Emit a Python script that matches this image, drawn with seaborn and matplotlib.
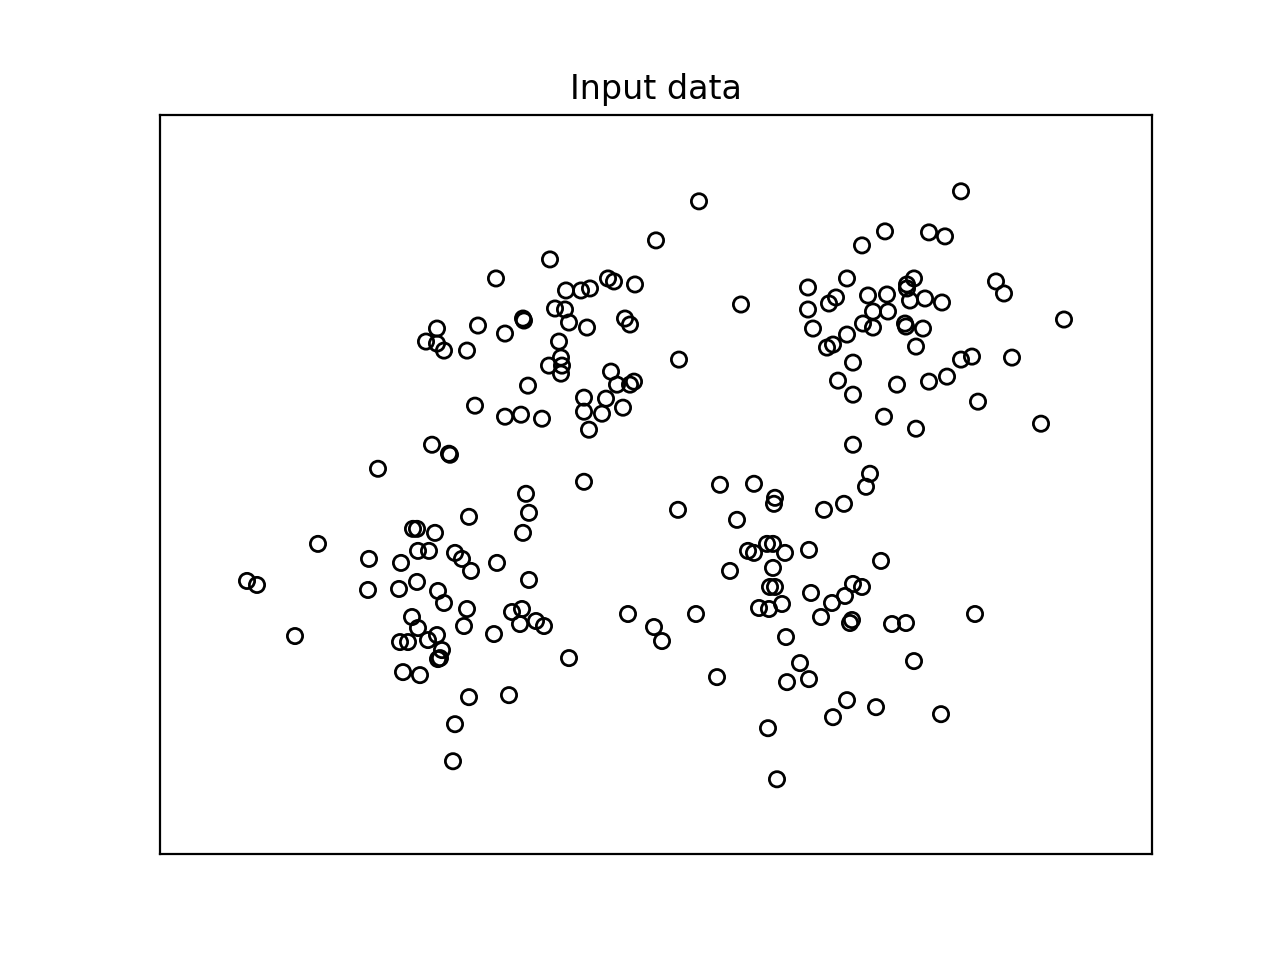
import numpy as np
import pandas as pd
import matplotlib
matplotlib.use('Agg')
import matplotlib.pyplot as plt
import seaborn as sns

# ----- input points (arbitrary units, no ticks shown) -----
x_upper_left = [5.39, 4.96, 3.90, 3.36, 4.48, 4.54, 4.75, 4.06, 4.21, 4.30, 5.81, 3.95, 4.05,
                3.63, 3.64, 3.45, 4.09, 4.27, 4.65, 4.70, 3.99, 5.19, 3.89, 4.01, 4.02, 4.01,
                4.51, 4.57, 4.70, 4.74, 3.68, 2.77, 3.18, 2.66, 2.77, 2.84, 3.07, 4.24, 4.46,
                4.24, 4.42, 4.63, 4.29, 3.45, 3.61, 3.82, 3.15, 2.72, 2.89, 2.90, 2.18, 4.24]
y_upper_left = [6.52, 6.13, 5.94, 5.75, 5.75, 5.72, 5.69, 5.63, 5.63, 5.65, 5.49, 5.45, 5.44,
                5.35, 5.33, 5.20, 5.31, 5.26, 5.35, 5.29, 5.12, 4.94, 4.88, 4.96, 4.88, 4.80,
                4.82, 4.69, 4.69, 4.72, 4.68, 5.25, 5.28, 5.12, 5.10, 5.03, 5.03, 4.56, 4.55,
                4.42, 4.40, 4.46, 4.24, 4.37, 4.39, 4.35, 4.48, 4.09, 4.00, 3.99, 3.85, 3.72]

x_lower_left = [3.66, 3.69, 3.63, 3.37, 3.69, 3.09, 1.58, 2.53, 2.57, 2.75, 2.09, 2.41, 2.58,
                2.69, 2.95, 3.02, 3.11, 0.87, 0.97, 2.08, 2.39, 2.57, 2.78, 2.84, 3.07, 2.52,
                2.58, 3.04, 3.34, 1.35, 2.40, 2.48, 2.68, 2.77, 2.82, 2.80, 2.78, 2.43, 2.60,
                3.09, 2.95, 2.93, 3.52, 3.62, 3.60, 3.76, 3.84, 4.09, 3.49]
y_lower_left = [3.60, 3.41, 3.21, 2.91, 2.74, 3.37, 3.10, 3.25, 3.25, 3.21, 2.95, 2.91, 3.03,
                3.03, 3.01, 2.95, 2.83, 2.73, 2.69, 2.64, 2.65, 2.72, 2.63, 2.51, 2.45, 2.37,
                2.26, 2.28, 2.20, 2.18, 2.12, 2.12, 2.14, 2.19, 2.04, 1.96, 1.95, 1.82, 1.79,
                1.57, 1.30, 0.93, 2.42, 2.45, 2.30, 2.33, 2.28, 1.96, 1.59]

x_lower_right = [4.68, 4.94, 5.02, 5.36, 5.57, 5.18, 5.60, 5.94, 6.15, 6.14, 5.77, 6.07, 6.13,
                 5.88, 5.94, 6.13, 5.70, 6.10, 6.15, 6.22, 6.09, 5.99, 6.51, 6.72, 6.85, 6.93,
                 7.02, 6.61, 6.90, 6.92, 7.32, 7.46, 8.15, 6.26, 6.40, 6.49, 6.27, 7.54, 6.87,
                 7.16, 6.73, 7.81, 6.08, 6.17, 6.64, 6.84, 7.06, 7.10, 6.93, 6.49, 6.25, 7.21]
y_lower_right = [2.40, 2.27, 2.13, 2.40, 1.77, 3.44, 3.69, 3.70, 3.56, 3.50, 3.34, 3.10, 3.10,
                 3.03, 3.01, 2.86, 2.83, 2.67, 2.67, 2.50, 2.45, 2.46, 2.61, 2.51, 2.58, 2.70,
                 2.67, 2.37, 2.31, 2.34, 2.30, 2.31, 2.40, 2.17, 1.91, 1.75, 1.72, 1.93, 1.54,
                 1.47, 1.37, 1.40, 1.26, 0.75, 3.44, 3.50, 3.67, 3.80, 4.09, 3.04, 3.01, 2.93]

x_upper_right = [8.01, 7.25, 7.69, 7.85, 7.02, 6.87, 6.48, 7.54, 7.47, 7.47, 6.69, 6.76, 7.08,
                 7.27, 7.50, 7.65, 7.82, 6.48, 7.13, 7.28, 8.36, 8.44, 9.04, 7.03, 7.13, 7.45,
                 7.46, 7.63, 6.53, 6.87, 6.67, 6.73, 7.56, 6.93, 6.78, 7.37, 7.69, 7.87, 8.01,
                 8.12, 8.52, 6.93, 7.24, 7.56, 8.18, 8.81]
y_upper_right = [6.62, 6.22, 6.21, 6.17, 6.08, 5.75, 5.66, 5.75, 5.69, 5.65, 5.50, 5.56, 5.58,
                 5.59, 5.53, 5.55, 5.51, 5.44, 5.42, 5.42, 5.72, 5.60, 5.34, 5.30, 5.26, 5.30,
                 5.27, 5.25, 5.25, 5.19, 5.06, 5.09, 5.07, 4.91, 4.73, 4.69, 4.72, 4.77, 4.94,
                 4.97, 4.96, 4.59, 4.37, 4.25, 4.52, 4.30]

df = pd.DataFrame({
    'x': x_upper_left + x_lower_left + x_lower_right + x_upper_right,
    'y': y_upper_left + y_lower_left + y_lower_right + y_upper_right,
})

fig, ax = plt.subplots(figsize=(6.4, 4.8), dpi=200)
sns.scatterplot(data=df, x='x', y='y', ax=ax, marker='o', s=30,
                facecolor='none', edgecolor='black', linewidth=1)

ax.set_xlim(0, 9.92)
ax.set_ylim(0, 7.38)
ax.set_xticks([]); ax.set_yticks([])
ax.set_xlabel(''); ax.set_ylabel('')
ax.set_title('Input data')

plt.savefig('out.png', dpi=200)
